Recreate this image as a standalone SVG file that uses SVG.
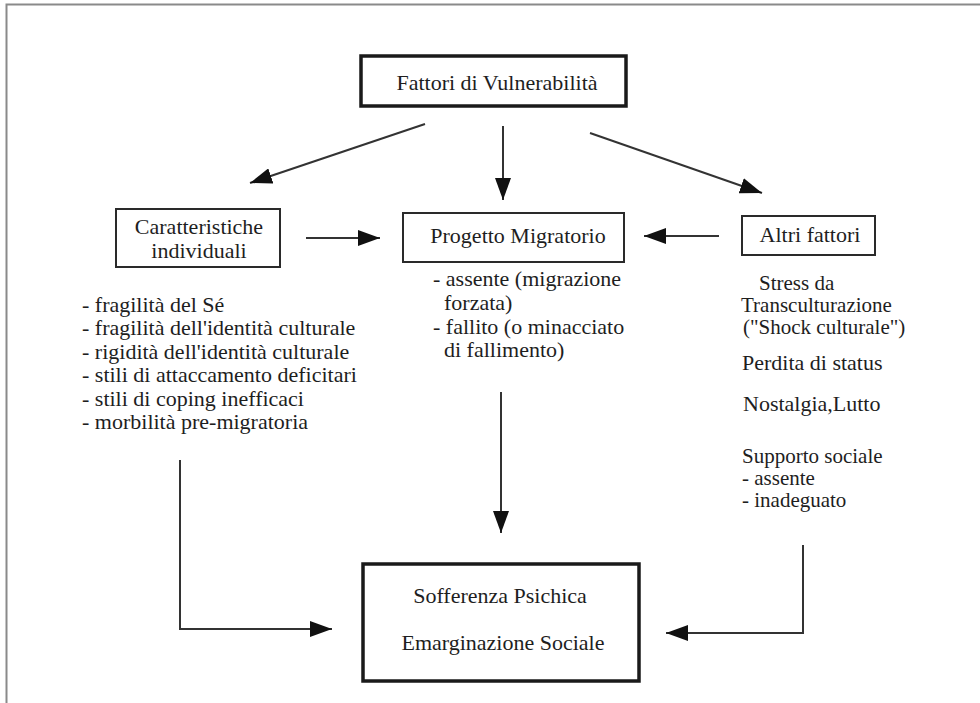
<svg xmlns="http://www.w3.org/2000/svg" width="980" height="703" viewBox="0 0 980 703" font-family="'Liberation Serif', 'DejaVu Serif', serif">
<style>
  text { font-family: 'Liberation Serif', 'DejaVu Serif', serif; font-size: 22px; fill: #1e1e1e; }
  .c { text-anchor: middle; }
  .s { font-size: 21px; }
  .box { fill: #ffffff; stroke: #2a2a2a; stroke-width: 2; }
  .thick { stroke-width: 3.5; stroke: #1a1a1a; }
  .conn { fill: none; stroke: #333333; stroke-width: 2; marker-end: url(#ah); }
</style>
<defs>
  <marker id="ah" markerUnits="userSpaceOnUse" markerWidth="22" markerHeight="16" refX="22" refY="8" orient="auto">
    <path d="M0,0 L22,8 L0,16 z" fill="#111111"/>
  </marker>
</defs>
<rect x="0" y="0" width="980" height="703" fill="#ffffff"/>
<g id="frame">
  <path d="M6.5,703 L6.5,4.5 L980,4.5" fill="none" stroke="#8a8a8a" stroke-width="2"/>
</g>
<g id="connectors">
  <path class="conn" d="M425,124 L250,183"/>
  <path class="conn" d="M503,126 L503,200"/>
  <path class="conn" d="M590,133 L762,193"/>
  <path class="conn" d="M306,238 L380,238"/>
  <path class="conn" d="M719,236 L644,236"/>
  <path class="conn" d="M501,392 L501,533"/>
  <path class="conn" d="M180,460 L180,629 L332,629"/>
  <path class="conn" d="M803,545 L803,633 L666,633"/>
</g>
<g id="node-fattori">
  <rect class="box thick" x="361" y="56" width="265" height="50"/>
  <text class="c" x="497" y="90" font-family="'Liberation Serif', serif">Fattori di Vulnerabilità</text>
</g>
<g id="node-caratteristiche">
  <rect class="box" x="116" y="209" width="164" height="58"/>
  <text class="c" x="199" y="234">Caratteristiche</text>
  <text class="c" x="199" y="258">individuali</text>
</g>
<g id="node-progetto">
  <rect class="box" x="403" y="213" width="221" height="49"/>
  <text class="c" x="518" y="243">Progetto Migratorio</text>
</g>
<g id="node-altri">
  <rect class="box" x="742" y="216" width="133" height="39"/>
  <text class="c" x="810" y="242">Altri fattori</text>
</g>
<g id="node-sofferenza">
  <rect class="box thick" x="363" y="564" width="276" height="117"/>
  <text class="c" x="500" y="603">Sofferenza Psichica</text>
  <text class="c" x="503" y="650">Emarginazione Sociale</text>
</g>
<g id="text-caratteristiche">
  <text x="82" y="312">- fragilità del Sé</text>
  <text x="82" y="335">- fragilità dell'identità culturale</text>
  <text x="82" y="359">- rigidità dell'identità culturale</text>
  <text x="82" y="382">- stili di attaccamento deficitari</text>
  <text x="82" y="406">- stili di coping inefficaci</text>
  <text x="82" y="429">- morbilità pre-migratoria</text>
</g>
<g id="text-progetto">
  <text x="433" y="286">- assente (migrazione</text>
  <text x="444" y="310">forzata)</text>
  <text x="433" y="334">- fallito (o minacciato</text>
  <text x="444" y="357">di fallimento)</text>
</g>
<g id="text-altri">
  <text class="s" x="759" y="290">Stress da</text>
  <text class="s" x="741" y="312">Transculturazione</text>
  <text class="s" x="743" y="334">("Shock culturale")</text>
  <text x="742" y="370">Perdita di status</text>
  <text x="743" y="411">Nostalgia,Lutto</text>
  <text class="s" x="742" y="463">Supporto sociale</text>
  <text class="s" x="742" y="485">- assente</text>
  <text class="s" x="742" y="507">- inadeguato</text>
</g>
</svg>
